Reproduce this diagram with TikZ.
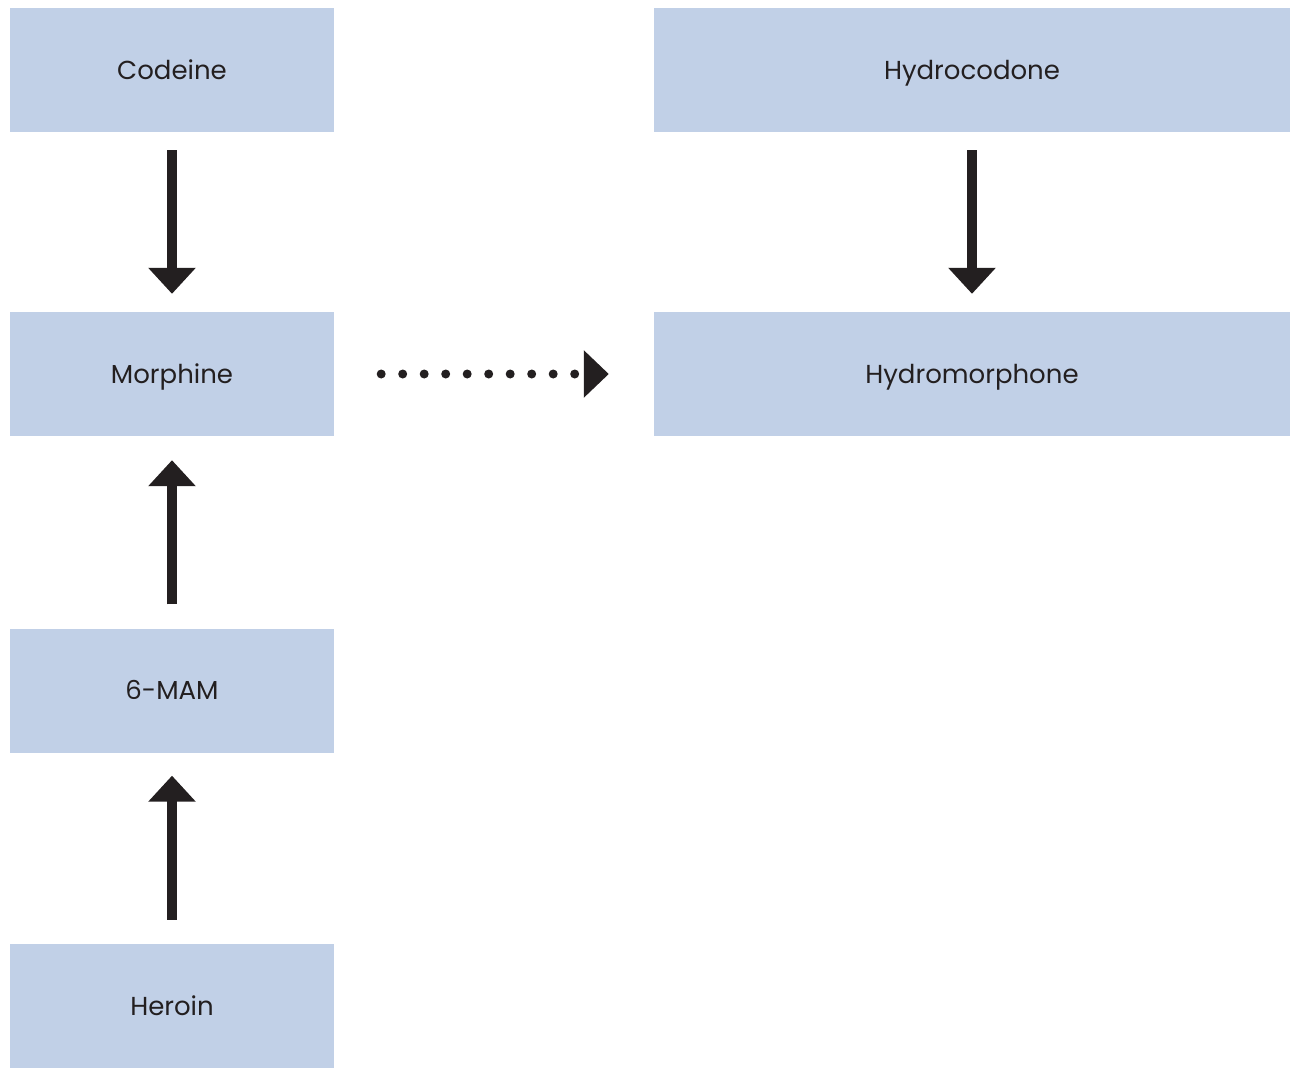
\documentclass[tikz,border=0pt]{standalone}
\usepackage{fontspec}
\setmainfont{Poppins}
\usepackage{xcolor}
\usetikzlibrary{arrows.meta, positioning}
\definecolor{boxblue}{HTML}{C1D0E7}
\definecolor{inkdark}{HTML}{231F20}

\begin{document}
\begin{tikzpicture}[x=1pt, y=-1pt,
    box/.style={fill=boxblue, inner sep=0pt, minimum height=124pt, text=inkdark, text height=18pt, text depth=0pt, font=\fontsize{26}{30}\selectfont},
    small/.style={box, minimum width=324pt},
    wide/.style={box, minimum width=636pt},
    solidarrow/.style={draw=inkdark, line width=10pt, -{Triangle[width=46pt, length=26pt]}},
    dotarrow/.style={draw=inkdark, line width=9pt, line cap=round, dash pattern=on 0pt off 21.5pt, -{Triangle[width=46pt, length=25pt]}}]
    \useasboundingbox (0,0) rectangle (1294,1068); % page size of the reference
    \node[small] (codeine) at (172,70) {Codeine};
    \node[small] (morphine) at (172,374) {Morphine};
    \node[small] (mam) at (172,690.5) {6-MAM};
    \node[small] (heroin) at (172,1006) {Heroin};
    \node[wide] (hydrocodone) at (972,70) {Hydrocodone};
    \node[wide] (hydromorphone) at (972,374) {Hydromorphone};
    \draw[solidarrow, shorten <=18pt, shorten >=18pt] (codeine) -- (morphine);
    \draw[solidarrow, shorten <=18pt, shorten >=18pt] (hydrocodone) -- (hydromorphone);
    \draw[solidarrow, shorten <=24pt, shorten >=24pt] (mam) -- (morphine);
    \draw[solidarrow, shorten <=24pt, shorten >=23pt] (heroin) -- (mam);
    \draw[dotarrow, shorten <=47pt, shorten >=45pt] (morphine) -- (hydromorphone);
\end{tikzpicture}
\end{document}
